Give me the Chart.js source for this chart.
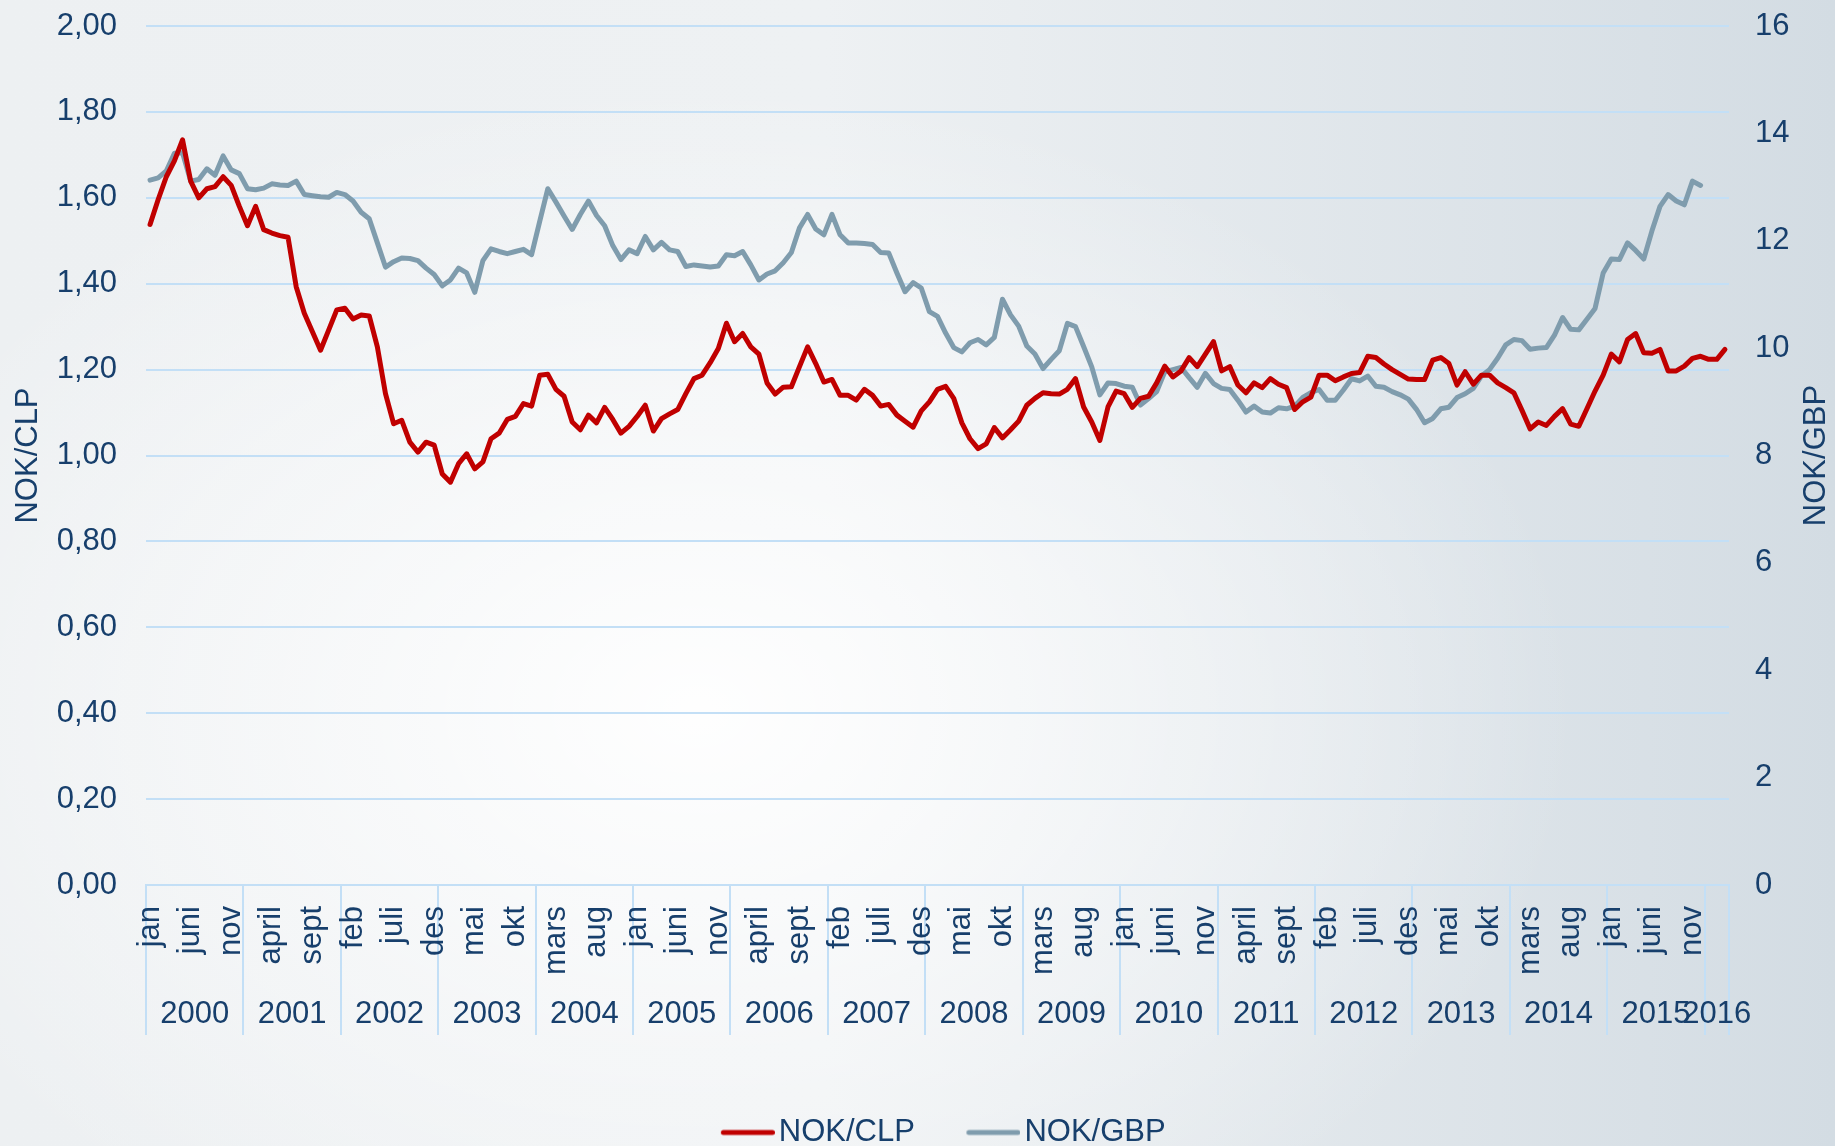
<!DOCTYPE html>
<html>
<head>
<meta charset="utf-8">
<title>NOK/CLP og NOK/GBP</title>
<script src="https://cdn.jsdelivr.net/npm/chart.js@4.4.1/dist/chart.umd.min.js"></script>
<style>
    html, body {
        margin: 0;
        padding: 0;
        overflow: hidden;
    }
    body {
        width: 1835px;
        height: 1146px;
        background:
            radial-gradient(ellipse 48% 55% at 38% 62%, rgba(255,255,255,0.95) 0%, rgba(255,255,255,0) 100%),
            linear-gradient(90deg, #edf0f2 0%, #eef1f3 45%, #d3dce3 100%);
    }
    #wrap {
        position: relative;
        width: 1835px;
        height: 1158px;
    }
</style>
</head>
<body>
<div id="wrap"><canvas id="kursChart"></canvas></div>
<script>
// Månedlige kurser jan 2000 - mars 2016
const monthNames = ['jan', 'feb', 'mars', 'april', 'mai', 'juni', 'juli', 'aug', 'sept', 'okt', 'nov', 'des'];
const yearLabels = ['2000', '2001', '2002', '2003', '2004', '2005', '2006', '2007', '2008',
    '2009', '2010', '2011', '2012', '2013', '2014', '2015', '2016'];
const monthsPerYear = [12, 12, 12, 12, 12, 12, 12, 12, 12, 12, 12, 12, 12, 12, 12, 12, 3];

const nokClp = [
    1.538, 1.596, 1.649, 1.686, 1.735, 1.639, 1.600, 1.621, 1.626, 1.649, 1.629, 1.580,
    1.535, 1.580, 1.526, 1.518, 1.512, 1.508, 1.393, 1.331, 1.288, 1.245, 1.292, 1.339,
    1.343, 1.318, 1.327, 1.325, 1.253, 1.144, 1.074, 1.082, 1.031, 1.008, 1.031, 1.024,
    0.957, 0.938, 0.981, 1.004, 0.969, 0.985, 1.039, 1.052, 1.084, 1.091, 1.121, 1.115,
    1.187, 1.189, 1.154, 1.138, 1.078, 1.060, 1.094, 1.076, 1.112, 1.084, 1.052, 1.068,
    1.091, 1.117, 1.057, 1.086, 1.097, 1.107, 1.144, 1.179, 1.187, 1.216, 1.249, 1.308,
    1.265, 1.284, 1.253, 1.236, 1.169, 1.143, 1.159, 1.160, 1.207, 1.253, 1.214, 1.171,
    1.177, 1.140, 1.140, 1.129, 1.154, 1.140, 1.115, 1.119, 1.094, 1.080, 1.066, 1.104,
    1.125, 1.154, 1.161, 1.133, 1.076, 1.039, 1.016, 1.027, 1.065, 1.041, 1.060, 1.080,
    1.117, 1.133, 1.146, 1.144, 1.143, 1.154, 1.179, 1.113, 1.078, 1.035, 1.113, 1.150,
    1.144, 1.112, 1.133, 1.138, 1.169, 1.208, 1.183, 1.197, 1.228, 1.207, 1.236, 1.265,
    1.197, 1.207, 1.164, 1.146, 1.169, 1.158, 1.179, 1.166, 1.158, 1.107, 1.125, 1.136,
    1.187, 1.187, 1.174, 1.183, 1.191, 1.193, 1.231, 1.228, 1.213, 1.200, 1.189, 1.178,
    1.177, 1.177, 1.222, 1.228, 1.214, 1.164, 1.195, 1.166, 1.187, 1.187, 1.169, 1.158,
    1.146, 1.105, 1.062, 1.078, 1.070, 1.091, 1.109, 1.073, 1.068, 1.109, 1.150, 1.187,
    1.236, 1.218, 1.270, 1.284, 1.239, 1.238, 1.247, 1.197, 1.197, 1.208, 1.226, 1.231,
    1.224, 1.224, 1.247
];

const nokGbp = [
    13.13, 13.17, 13.30, 13.63, 13.64, 13.11, 13.14, 13.34, 13.22, 13.58, 13.32, 13.25,
    12.97, 12.95, 12.98, 13.06, 13.04, 13.03, 13.11, 12.86, 12.84, 12.82, 12.81, 12.90,
    12.86, 12.74, 12.53, 12.41, 11.96, 11.51, 11.61, 11.68, 11.67, 11.63, 11.49, 11.37,
    11.16, 11.27, 11.49, 11.40, 11.04, 11.63, 11.85, 11.80, 11.76, 11.80, 11.84, 11.74,
    12.36, 12.97, 12.72, 12.46, 12.21, 12.49, 12.74, 12.47, 12.28, 11.91, 11.65, 11.83,
    11.76, 12.08, 11.83, 11.97, 11.83, 11.80, 11.52, 11.55, 11.53, 11.51, 11.53, 11.74,
    11.72, 11.80, 11.55, 11.27, 11.38, 11.44, 11.59, 11.78, 12.24, 12.49, 12.22, 12.11,
    12.49, 12.11, 11.96, 11.96, 11.95, 11.93, 11.78, 11.77, 11.40, 11.05, 11.22, 11.12,
    10.68, 10.59, 10.28, 10.01, 9.93, 10.10, 10.16, 10.06, 10.20, 10.91, 10.62, 10.41,
    10.04, 9.89, 9.62, 9.79, 9.95, 10.46, 10.40, 10.03, 9.65, 9.13, 9.35, 9.34,
    9.29, 9.27, 8.94, 9.06, 9.19, 9.56, 9.60, 9.64, 9.45, 9.27, 9.53, 9.34,
    9.25, 9.23, 9.03, 8.81, 8.92, 8.81, 8.79, 8.89, 8.87, 8.92, 9.08, 9.17,
    9.23, 9.03, 9.03, 9.22, 9.43, 9.39, 9.48, 9.29, 9.27, 9.19, 9.13, 9.05,
    8.86, 8.61, 8.69, 8.87, 8.90, 9.08, 9.15, 9.25, 9.48, 9.60, 9.81, 10.06,
    10.16, 10.14, 9.98, 10.00, 10.01, 10.24, 10.57, 10.35, 10.34, 10.54, 10.74, 11.40,
    11.66, 11.65, 11.96, 11.82, 11.66, 12.18, 12.64, 12.86, 12.74, 12.67, 13.11, 13.03
];

const CLP_COLOR = '#c00000';
const GBP_COLOR = '#7f9cad';
const TEXT_COLOR = '#173f6c';
const GRID_COLOR = '#c3dff6';
const FONT_FAMILY = '"Liberation Sans", Arial, sans-serif';

// kategorier (én per måned) og plassering av årstallene midt i hvert år
const categories = [];
const yearTicks = [];
let start = 0;
monthsPerYear.forEach((count, y) => {
    for (let m = 0; m < count; m++) categories.push(monthNames[m]);
    yearTicks.push({ value: start + (count - 1) / 2, label: yearLabels[y] });
    start += count;
});

Chart.defaults.font.family = FONT_FAMILY;
Chart.defaults.font.size = 31;
Chart.defaults.color = TEXT_COLOR;

// linjesymbol til forklaringen, flyttet litt mot teksten
function legendSwatch(color) {
    const c = document.createElement('canvas');
    c.width = 77;
    c.height = 8;
    const g = c.getContext('2d');
    g.strokeStyle = color;
    g.lineWidth = 5;
    g.lineCap = 'round';
    g.beginPath();
    g.moveTo(25.5, 4);
    g.lineTo(74.5, 4);
    g.stroke();
    return c;
}

// tittel på høyre akse, lest nedenfra og opp som på venstre side
const rightAxisTitle = {
    id: 'rightAxisTitle',
    afterDraw(chart) {
        const scale = chart.scales.yGbp;
        const ctx = chart.ctx;
        ctx.save();
        ctx.translate(scale.right - 19, (scale.top + scale.bottom) / 2);
        ctx.rotate(-Math.PI / 2);
        ctx.font = '31px ' + FONT_FAMILY;
        ctx.fillStyle = TEXT_COLOR;
        ctx.textAlign = 'center';
        ctx.textBaseline = 'middle';
        ctx.fillText('NOK/GBP', 0, 0);
        ctx.restore();
    }
};

const ctx = document.getElementById('kursChart');

new Chart(ctx, {
    type: 'line',
    data: {
        labels: categories,
        datasets: [{
            label: 'NOK/CLP',
            data: nokClp,
            xAxisID: 'x',
            yAxisID: 'yClp',
            borderColor: CLP_COLOR,
            backgroundColor: CLP_COLOR,
            borderWidth: 5,
            borderJoinStyle: 'round',
            borderCapStyle: 'round',
            pointRadius: 0,
            pointStyle: legendSwatch(CLP_COLOR),
            tension: 0
        }, {
            label: 'NOK/GBP',
            data: nokGbp,
            xAxisID: 'x',
            yAxisID: 'yGbp',
            borderColor: GBP_COLOR,
            backgroundColor: GBP_COLOR,
            borderWidth: 5,
            borderJoinStyle: 'round',
            borderCapStyle: 'round',
            pointRadius: 0,
            pointStyle: legendSwatch(GBP_COLOR),
            tension: 0
        }]
    },
    options: {
        responsive: true,
        maintainAspectRatio: false,
        animation: false,
        layout: {
            padding: { top: 26, left: 0, right: 0, bottom: 0 }
        },
        plugins: {
            tooltip: { enabled: false },
            legend: {
                position: 'bottom',
                fullSize: false,
                labels: {
                    usePointStyle: true,
                    pointStyleWidth: 54,
                    padding: 40,
                    color: TEXT_COLOR,
                    font: { size: 31 }
                }
            }
        },
        scales: {
            x: {
                type: 'category',
                position: 'bottom',
                weight: 0,
                offset: true,
                grid: {
                    offset: true,
                    drawOnChartArea: false,
                    drawTicks: true,
                    tickLength: 150,
                    lineWidth: 2,
                    // skillelinjer kun ved årsskiftene
                    color: (c) => (c.index === undefined || c.index % 12 === 0) ? GRID_COLOR : 'rgba(0,0,0,0)'
                },
                border: { display: true, color: GRID_COLOR, width: 2 },
                ticks: {
                    autoSkip: false,
                    minRotation: 90,
                    maxRotation: 90,
                    padding: -129,
                    color: TEXT_COLOR,
                    callback: function (value, index) {
                        return index % 5 === 0 ? this.getLabelForValue(value) : '';
                    }
                },
                afterFit: (scale) => { scale.height = 100; }
            },
            xYear: {
                type: 'linear',
                position: 'bottom',
                weight: 1,
                bounds: 'data',
                min: -0.5,
                max: categories.length - 0.5,
                grid: { display: false, drawTicks: false },
                border: { display: false },
                afterBuildTicks: (scale) => {
                    scale.ticks = yearTicks.map(t => ({ value: t.value }));
                },
                ticks: {
                    autoSkip: false,
                    maxRotation: 0,
                    minRotation: 0,
                    padding: 11,
                    color: TEXT_COLOR,
                    callback: (value) => {
                        const t = yearTicks.find(y => y.value === value);
                        return t ? t.label : '';
                    }
                },
                afterFit: (scale) => { scale.height = 92; }
            },
            yClp: {
                type: 'linear',
                position: 'left',
                min: 0,
                max: 2,
                grid: { color: GRID_COLOR, lineWidth: 2, drawTicks: false },
                border: { display: false },
                ticks: {
                    stepSize: 0.2,
                    padding: 29,
                    color: TEXT_COLOR,
                    callback: (v) => v.toFixed(2).replace('.', ',')
                },
                title: {
                    display: true,
                    text: 'NOK/CLP',
                    color: TEXT_COLOR,
                    font: { size: 31 },
                    padding: { top: 10, bottom: 0 }
                },
                afterFit: (scale) => {
                    scale.width = 146;
                    scale.paddingTop = 0;
                    scale.paddingBottom = 0;
                }
            },
            yGbp: {
                type: 'linear',
                position: 'right',
                min: 0,
                max: 16,
                grid: { display: false, drawTicks: false },
                border: { display: false },
                ticks: {
                    stepSize: 2,
                    padding: 26,
                    color: TEXT_COLOR
                },
                afterFit: (scale) => {
                    scale.width = 106;
                    scale.paddingTop = 0;
                    scale.paddingBottom = 0;
                }
            }
        }
    },
    plugins: [rightAxisTitle]
});
</script>
</body>
</html>
